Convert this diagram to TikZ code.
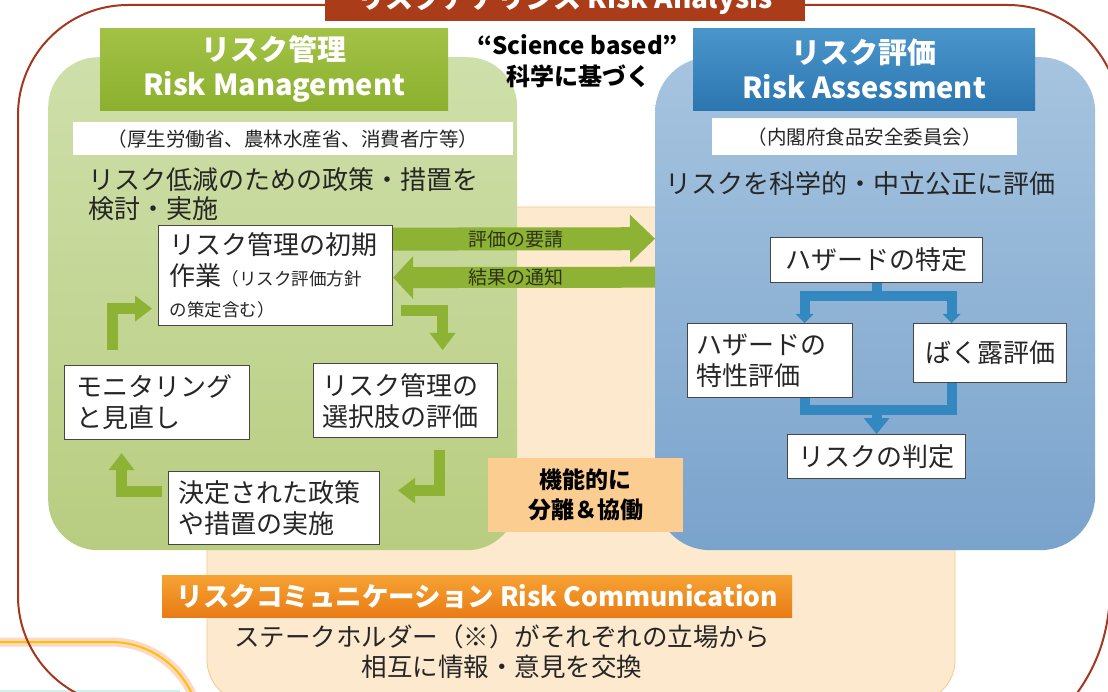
\documentclass[tikz,border=0pt]{standalone}
\usepackage{fontspec}
\setmainfont{Noto Sans CJK JP}
\usetikzlibrary{arrows.meta,calc}
\newcommand{\fsz}[2]{\fontsize{#1}{#2}\selectfont}
\definecolor{redline}{RGB}{165,55,30}
\definecolor{titlebar}{RGB}{170,60,25}
\definecolor{lgtop}{RGB}{207,223,170}
\definecolor{lgbot}{RGB}{184,205,128}
\definecolor{ghtop}{RGB}{162,194,70}
\definecolor{ghbot}{RGB}{140,176,46}
\definecolor{garrow}{RGB}{142,178,52}
\definecolor{btop}{RGB}{166,196,223}
\definecolor{bbot}{RGB}{122,163,204}
\definecolor{bhtop}{RGB}{74,150,203}
\definecolor{bhbot}{RGB}{44,118,176}
\definecolor{barrow}{RGB}{52,136,192}
\definecolor{peach}{RGB}{253,233,205}
\definecolor{peachline}{RGB}{247,200,140}
\definecolor{kino}{RGB}{251,205,145}
\definecolor{commtop}{RGB}{247,162,52}
\definecolor{commbot}{RGB}{232,124,20}
\definecolor{txt}{RGB}{38,38,38}
\definecolor{boxline}{RGB}{70,70,70}
\definecolor{arrtxt}{RGB}{45,50,25}
\definecolor{glow}{RGB}{250,190,160}
\definecolor{yel}{RGB}{255,192,0}
\definecolor{mint}{RGB}{205,242,236}
\begin{document}
\begin{tikzpicture}[x=1pt,y=-1pt,
  wbox/.style={draw=boxline, line width=1.2pt, fill=white, anchor=north west, inner ysep=0pt, align=left, text=txt, font=\fsz{26}{31}},
  cbox/.style={draw=boxline, line width=1.2pt, fill=white, anchor=north west, inner sep=0pt, align=center, text=txt, font=\fsz{26}{31}},
  garr/.style={draw=garrow, line width=11pt, line join=miter, -{Triangle[length=17pt,width=26pt,line width=0pt]}},
  barr/.style={draw=barrow, line width=10pt, line join=miter},
  bigarr/.style={draw=garrow, line join=miter},
  arrlabel/.style={font=\fsz{19}{22}, text=arrtxt, inner sep=0pt}
]
\useasboundingbox (0,0) rectangle (1108,692);
\clip (0,0) rectangle (1108,692);
\fill[white] (0,0) rectangle (1108,692);

% glow line bottom-left
\draw[overlay, glow, line width=9pt, opacity=0.6, rounded corners=89pt] (-10,642) -- (200,642) -- (200,800);
\draw[overlay, yel, line width=2pt, rounded corners=89pt] (-10,642) -- (200,642) -- (200,800);
\draw[mint, line width=2pt] (0,691) -- (180,691);

% outer frame (visible parts only)
\draw[overlay, redline, line width=2pt] (1110,72) .. controls (1091,31) and (1051,5) .. (1008,5)
  [rounded corners=110pt] -- (18,5) -- (18,706) -- (400,706);
\draw[overlay, redline, line width=2pt] (1110,598) .. controls (1107,640) and (1095,670) .. (1072,700);
\fill[white] (1099,76) rectangle (1108,596);

% peach background
\draw[overlay, peachline, fill=peach, line width=0.8pt, rounded corners=42pt] (207,207) rectangle (955,702);

% panels
\node[anchor=north west, minimum width=469pt, minimum height=493pt, inner sep=0pt, rounded corners=50pt, top color=lgtop, bottom color=lgbot] (rm) at (48,57) {};
\node[anchor=north west, minimum width=440pt, minimum height=493pt, inner sep=0pt, rounded corners=55pt, top color=btop, bottom color=bbot] (ra) at (655,57) {};

% headers
\node[anchor=north west, minimum width=348pt, minimum height=82pt, inner sep=0pt, top color=ghtop, bottom color=ghbot, text=white, align=center, font=\bfseries\fsz{29}{35}] (rmh) at (100,28) {リスク管理\\Risk Management};
\node[anchor=north west, minimum width=342pt, minimum height=82pt, inner sep=0pt, top color=bhtop, bottom color=bhbot, text=white, align=center, font=\bfseries\fsz{29}{35}] (rah) at (693,28) {リスク評価\\Risk Assessment};

\node[align=center, font=\bfseries\fsz{24}{31}, text=black, inner sep=0pt] (sci) at (578,61) {“Science based”\\科学に基づく};

% title bar
\node[overlay, anchor=south west, minimum width=480pt, minimum height=42pt, inner sep=0pt, fill=titlebar, text=white, font=\bfseries\fsz{28}{34}] (tb) at (325,21) {リスクアナリシス Risk Analysis};

% organisations
\node[anchor=north west, fill=white, minimum width=440pt, minimum height=33pt, inner sep=0pt, text=txt, font=\fsz{19.5}{23}] (rmorg) at (73,122) {（厚生労働省、農林水産省、消費者庁等）};
\node[anchor=north west, fill=white, minimum width=305pt, minimum height=37pt, inner sep=0pt, text=txt, font=\fsz{19.5}{23}] (raorg) at (712,118) {（内閣府食品安全委員会）};

% descriptions
\node[anchor=north west, inner sep=0pt, align=left, text=txt, font=\fsz{26}{29}] (rmdesc) at (88,167) {リスク低減のための政策・措置を\\検討・実施};
\node[anchor=north west, inner sep=0pt, align=left, text=txt, font=\fsz{26}{29}] (radesc) at (665,171) {リスクを科学的・中立公正に評価};

% management cycle boxes
\node[wbox, minimum height=100pt, text width=212pt, inner xsep=11pt] (init) at (158,225) {リスク管理の初期\\作業{\fsz{17.5}{21}（リスク評価方針}\\{\fsz{17.5}{21}の策定含む）}};
\node[wbox, minimum height=74pt, text width=161pt, inner xsep=12pt] (mon) at (64,365) {モニタリング\\と見直し};
\node[wbox, minimum height=74pt, text width=166pt, inner xsep=9pt] (opt) at (313,363) {リスク管理の\\選択肢の評価};
\node[wbox, minimum height=73pt, text width=191pt, inner xsep=10pt] (dec) at (168,471) {決定された政策\\や措置の実施};

% cycle arrows
\draw[garr] ([xshift=-44.5pt,yshift=15pt]mon.north) |- ([xshift=-6pt,yshift=-33pt]init.west);
\draw[garr] ([xshift=8pt,yshift=-35pt]init.east) -| ([xshift=37pt,yshift=13pt]opt.north);
\draw[garr] ([xshift=34pt,yshift=-12pt]opt.south) |- ([xshift=18pt,yshift=17.5pt]dec.east);
\draw[garr] ([xshift=-6pt,yshift=16.5pt]dec.west) -| ([xshift=-35.5pt,yshift=-13pt]mon.south);

% request / result arrows
\draw[bigarr, line width=23pt, -{Triangle[length=25pt,width=48pt,line width=0pt]}] ([yshift=36.5pt]init.east) -- node[arrlabel, pos=0.47] (req) {評価の要請} ([yshift=65pt]ra.west);
\draw[bigarr, line width=21pt, -{Triangle[length=20pt,width=43pt,line width=0pt]}] ([yshift=26.5pt]ra.west) -- node[arrlabel, pos=0.53] (res) {結果の通知} ([yshift=-2pt]init.east);

% assessment boxes
\node[cbox, minimum width=212pt, minimum height=45pt] (haz) at (770,237) {ハザードの特定};
\node[wbox, minimum height=74pt, text width=147pt, inner xsep=9pt] (hz2) at (687,323) {ハザードの\\特性評価};
\node[cbox, minimum width=153pt, minimum height=59pt] (exp) at (913,323) {ばく露評価};
\node[cbox, minimum width=178pt, minimum height=44pt] (risk) at (787,434) {リスクの判定};

% assessment connectors
\draw[barr, -{Triangle[length=9pt,width=18pt,line width=0pt]}] (haz.south) -- ++(0,13) -| ([xshift=34.5pt]hz2.north);
\draw[barr, -{Triangle[length=9pt,width=18pt,line width=0pt]}] (haz.south) -- ++(0,13) -| ([xshift=-38.5pt]exp.north);
\draw[barr] ([xshift=34.5pt]hz2.south) |- ([yshift=24pt]risk.north);
\draw[barr] ([xshift=-38.5pt]exp.south) |- ([yshift=24pt]risk.north);
\draw[barr, -{Triangle[length=16pt,width=26pt,line width=0pt]}] ([yshift=24pt]risk.north) -- (risk.north);

% functional separation box
\node[anchor=north west, fill=kino, minimum width=195pt, minimum height=74pt, inner sep=0pt, align=center, text=black, font=\bfseries\fsz{23}{30}] (kino) at (488,458) {機能的に\\分離＆協働};

% risk communication
\node[anchor=north west, minimum width=630pt, minimum height=42pt, inner sep=0pt, top color=commtop, bottom color=commbot, text=white, font=\bfseries\fsz{26.5}{30}] (comm) at (162,575) {リスクコミュニケーション Risk Communication};
\node[align=center, inner sep=0pt, text=txt, font=\fsz{25.5}{30}] (commtxt) at (502,652) {ステークホルダー（※）がそれぞれの立場から\\相互に情報・意見を交換};
\end{tikzpicture}
\end{document}
